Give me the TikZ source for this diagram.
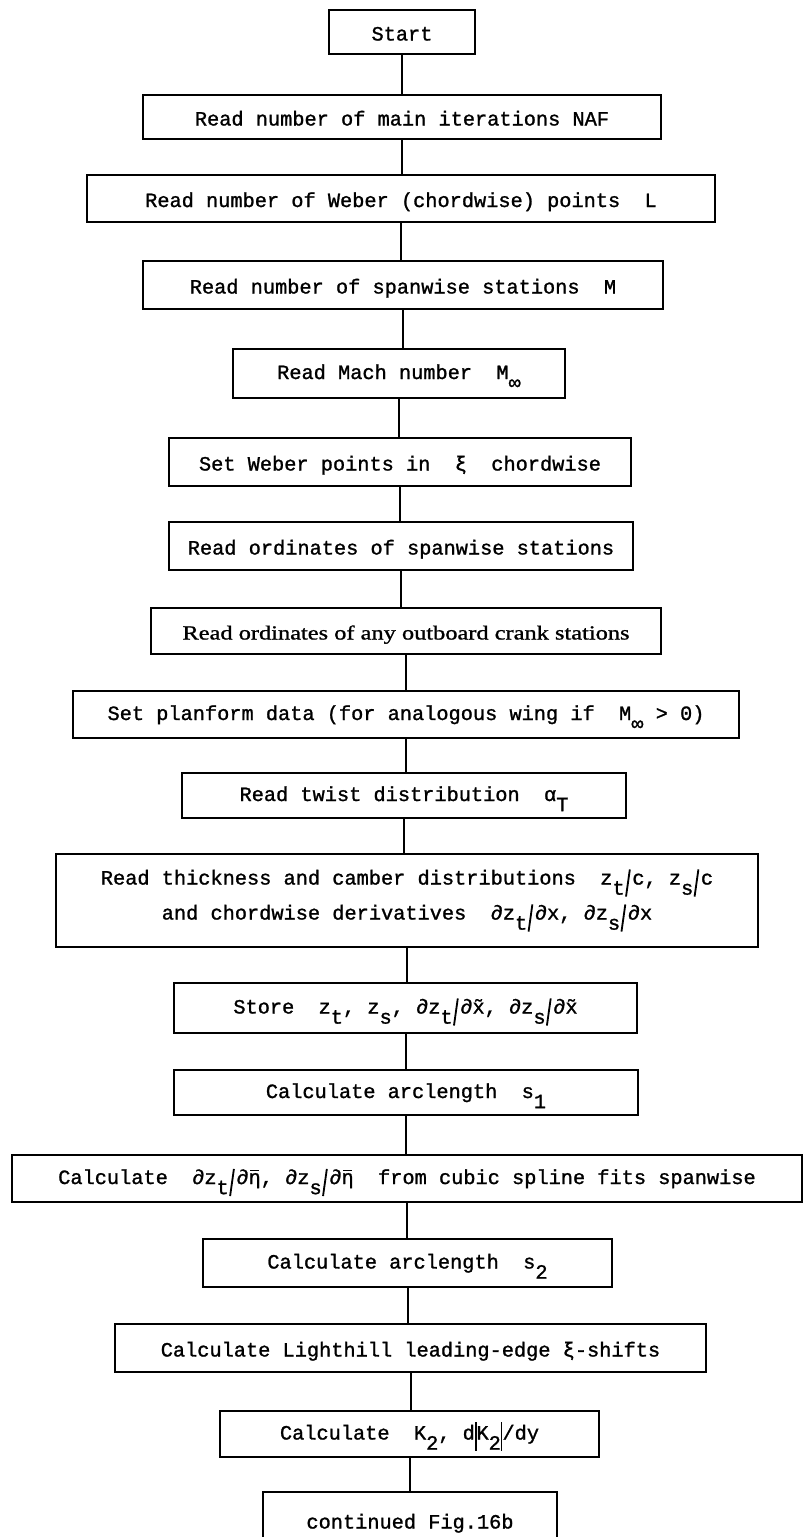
\documentclass[tikz,border=0pt]{standalone}
\usepackage{fontspec}
\newfontfamily\typew[FakeBold=1.2]{Liberation Mono}
\newfontfamily\propserif[FakeBold=1]{Liberation Serif}
% typewriter face used in the boxes
\newcommand{\tw}{\typew\fontsize{20.3pt}{35pt}\selectfont}
% half-line lowered subscript, as typed
\newcommand{\dn}[1]{\raisebox{-0.5em}{#1}}
% tall fraction stroke
\newcommand{\fsl}{\hspace{0.02em}\raisebox{-0.6em}{\rotatebox[origin=c]{-8}{\rule{0.09em}{1.35em}}}\hspace{0.08em}}
% tall absolute-value bar
\newcommand{\vbar}{\raisebox{-0.55em}{\rule{0.08em}{1.4em}}}
% x with tilde above
\newcommand{\tx}{\accent"02DC x}
% eta with bar above
\newcommand{\etab}{\ooalign{η\cr\hidewidth\rule[0.62em]{0.42em}{0.07em}\hidewidth\cr}}

\tikzset{
  base/.style={draw, line width=2.6pt, inner sep=0pt, font=\tw, fill=white},
  one/.style={base, text height=17pt, text depth=0pt},
  sub/.style={base, text height=17pt, text depth=6pt},
  two/.style={base, align=center},
  link/.style={line width=2pt},
}

\begin{document}
\begin{tikzpicture}[x=1pt,y=-1pt]
\useasboundingbox (0,0) rectangle (804,1537);
\fill[white] (0,0) rectangle (804,1537);
\clip (0,0) rectangle (804,1537);

\node[one, minimum width=146pt, minimum height=44pt] (n1) at (402,32) {Start};
\node[one, minimum width=518pt, minimum height=44pt] (n2) at (402,117) {Read number of main iterations NAF};
\node[one, minimum width=628pt, minimum height=47pt] (n3) at (401,198.5) {Read number of Weber (chordwise) points~~L};
\node[one, minimum width=520pt, minimum height=48pt] (n4) at (403,285) {Read number of spanwise stations~~M};
\node[sub, minimum width=332pt, minimum height=49pt] (n5) at (399,373.5) {Read Mach number~~M\dn{∞}};
\node[one, minimum width=462pt, minimum height=48pt] (n6) at (400,462) {Set Weber points in~~ξ~~chordwise};
\node[one, minimum width=464pt, minimum height=48pt] (n7) at (401,546) {Read ordinates of spanwise stations};
\node[one, minimum width=510pt, minimum height=46pt] (n8) at (406,631) {\resizebox{447pt}{\height}{\propserif\fontsize{20pt}{22pt}\selectfont Read ordinates of any outboard crank stations}};
\node[sub, minimum width=666pt, minimum height=47pt] (n9) at (406,714.5) {Set planform data (for analogous wing if~~M\dn{∞} > 0)};
\node[sub, minimum width=444pt, minimum height=45pt] (n10) at (404,795.5) {Read twist distribution~~α\dn{T}};
\node[two, minimum width=702pt, minimum height=93pt] (n11) at (407,900.5) {Read thickness and camber distributions~~z\dn{t}\fsl c, z\dn{s}\fsl c\\and chordwise derivatives~~∂z\dn{t}\fsl∂x, ∂z\dn{s}\fsl∂x};
\node[sub, minimum width=463pt, minimum height=50pt] (n12) at (405.5,1008) {Store~~z\dn{t}, z\dn{s}, ∂z\dn{t}\fsl∂\tx, ∂z\dn{s}\fsl∂\tx};
\node[sub, minimum width=464pt, minimum height=45pt] (n13) at (406,1092.5) {Calculate arclength~~s\dn{1}};
\node[sub, minimum width=790pt, minimum height=47pt] (n14) at (407,1178.5) {Calculate~~∂z\dn{t}\fsl∂\etab, ∂z\dn{s}\fsl∂\etab~~from cubic spline fits spanwise};
\node[sub, minimum width=409pt, minimum height=48pt] (n15) at (407.5,1263) {Calculate arclength~~s\dn{2}};
\node[one, minimum width=591pt, minimum height=48pt] (n16) at (410.5,1348) {Calculate Lighthill leading-edge ξ-shifts};
\node[sub, minimum width=379pt, minimum height=46pt] (n17) at (409.5,1434) {Calculate~~K\dn{2}, d\vbar K\dn{2}\vbar/dy};
\node[one, minimum width=294pt, minimum height=56pt] (n18) at (410,1520) {continued Fig.16b};

\foreach \a/\b in {n1/n2,n2/n3,n3/n4,n4/n5,n5/n6,n6/n7,n7/n8,n8/n9,n9/n10,n10/n11,n11/n12,n12/n13,n13/n14,n14/n15,n15/n16,n16/n17,n17/n18}
  \draw[link] (\a.south) -- (\a.south |- \b.north);
\end{tikzpicture}
\end{document}
